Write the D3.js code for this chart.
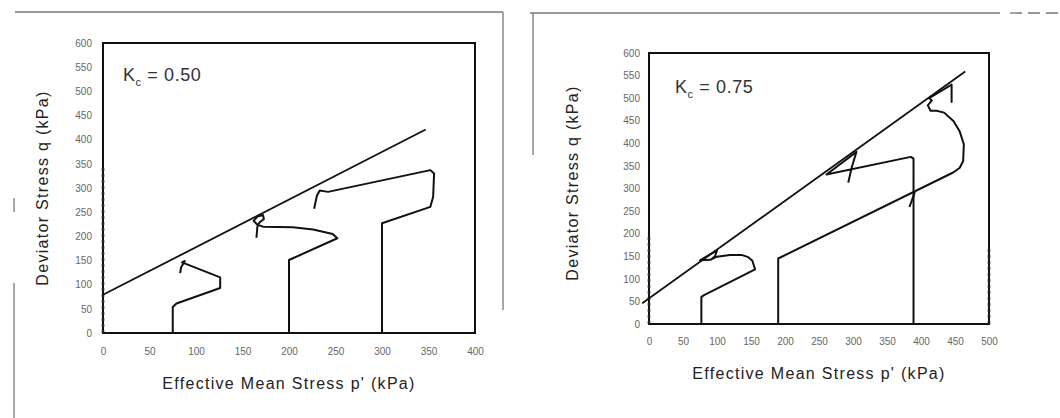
<!DOCTYPE html>
<html>
<head>
<meta charset="utf-8">
<script src="https://cdn.jsdelivr.net/npm/d3@7"></script>
<style>
  html, body { margin: 0; padding: 0; background: #fff; }
  svg { display: block; font-family: "Liberation Sans", Arial, sans-serif; }
</style>
</head>
<body>
<svg id="chart" width="1060" height="418"></svg>
<script>
// ---- Stress path data, p' (kPa) vs q (kPa) ----
const qTicks = [0, 50, 100, 150, 200, 250, 300, 350, 400, 450, 500, 550, 600];

// Kc = 0.50 panel
const pTicksA = [0, 50, 100, 150, 200, 250, 300, 350, 400];
const failureA = [[0, 79], [347, 421]];
const pathA1 = [[75, 0], [75, 54], [79, 61], [126, 93], [126, 115], [85, 146], [88, 149], [84, 136], [83, 124]];
const pathA2 = [[200, 0], [200, 151], [252, 196], [247, 205], [226, 214], [204, 219], [172, 220], [166, 224],
                [162, 232], [166, 241], [172, 244], [173, 236], [168, 228], [166, 220], [165, 197]];
const pathA3 = [[300, 0], [300, 227], [352, 261], [355, 282], [356, 330], [352, 337], [242, 292], [233, 295],
                [230, 284], [227, 257]];
const axisTraceA = [[0, 0], [0, 345]];

// Kc = 0.75 panel
const pTicksB = [0, 50, 100, 150, 200, 250, 300, 350, 400, 450, 500];
const failureB = [[-10, 46], [465, 559]];
const pathB1 = [[77, 0], [77, 60], [81, 64], [156, 121], [152, 140], [146, 148], [136, 153], [119, 153],
                [100, 149], [90, 142], [75, 141], [100, 163], [97, 150], [91, 142]];
const pathB2 = [[190, 0], [190, 145], [448, 336], [457, 346], [462, 361], [463, 398], [457, 426], [448, 449],
                [434, 468], [423, 472], [414, 472], [410, 484], [416, 495], [412, 500], [445, 530], [445, 490]];
const pathB3 = [[389, 0], [389, 366], [385, 370], [261, 331], [305, 381], [298, 346], [293, 313]];
const spurB = [[391, 292], [383, 259]];
const axisTraceB0 = [[0, 0], [0, 200]];
const axisTraceB1 = [[500, 0], [500, 170]];

const svg = d3.select("#chart");
const FONT = "'Liberation Sans', Arial, sans-serif";

// Scanned figure borders around the two panels
const border = svg.append("g").attr("stroke", "#777").attr("stroke-width", 1.3).attr("fill", "none");
border.append("line").attr("x1", 15).attr("y1", 12).attr("x2", 503).attr("y2", 12);
border.append("line").attr("x1", 503).attr("y1", 12).attr("x2", 503).attr("y2", 310);
border.append("line").attr("x1", 14).attr("y1", 283).attr("x2", 14).attr("y2", 418);
border.append("line").attr("x1", 14).attr("y1", 198).attr("x2", 14).attr("y2", 212);
border.append("line").attr("x1", 530).attr("y1", 13).attr("x2", 1000).attr("y2", 13);
border.append("line").attr("x1", 1010).attr("y1", 13).attr("x2", 1060).attr("y2", 13).attr("stroke-dasharray", "12,6");
border.append("line").attr("x1", 533).attr("y1", 13).attr("x2", 533).attr("y2", 155);

function panel(cfg) {
  const x = d3.scaleLinear().domain([0, cfg.pMax]).range([cfg.left, cfg.right]);
  const y = d3.scaleLinear().domain([0, 600]).range([cfg.bottom, cfg.top]);
  const g = svg.append("g");
  const line = d3.line().x(d => x(d[0])).y(d => y(d[1]));

  // tick labels
  const xAxis = d3.axisBottom(x).tickValues(cfg.pTicks).tickSize(0).tickPadding(cfg.xPad).tickFormat(d3.format("d"));
  const xg = g.append("g").attr("transform", `translate(0,${cfg.bottom})`).call(xAxis);
  const yAxis = d3.axisLeft(y).tickValues(qTicks).tickSize(0).tickPadding(cfg.yPad).tickFormat(d3.format("d"));
  const yg = g.append("g").attr("transform", `translate(${cfg.left},0)`).call(yAxis);
  [xg, yg].forEach(a => {
    a.select(".domain").remove();
    a.selectAll("text").attr("font-family", FONT).attr("font-size", 10).attr("fill", "#666");
  });

  // frame
  g.append("rect")
    .attr("x", cfg.left).attr("y", cfg.top)
    .attr("width", cfg.right - cfg.left).attr("height", cfg.bottom - cfg.top)
    .attr("fill", "none").attr("stroke", "#111").attr("stroke-width", 2);

  // traces lying on the frame
  cfg.traces.forEach(t => {
    g.append("path").attr("d", line(t)).attr("fill", "none")
      .attr("stroke", "#222").attr("stroke-width", 2.6).attr("stroke-dasharray", "3,3");
  });

  // failure line
  g.append("path").attr("d", line(cfg.failure)).attr("fill", "none")
    .attr("stroke", "#111").attr("stroke-width", 1.8);

  // stress paths
  cfg.paths.forEach(pth => {
    g.append("path").attr("d", line(pth)).attr("fill", "none")
      .attr("stroke", "#111").attr("stroke-width", 2).attr("stroke-linejoin", "round");
  });

  // axis titles
  g.append("text")
    .attr("x", (cfg.left + cfg.right) / 2).attr("y", cfg.xTitleY)
    .attr("text-anchor", "middle").attr("font-family", FONT).attr("font-size", 16)
    .attr("letter-spacing", 1.3).attr("fill", "#222")
    .text("Effective Mean Stress p' (kPa)");
  g.append("text")
    .attr("transform", `translate(${cfg.yTitleX},${cfg.yTitleY}) rotate(-90)`)
    .attr("text-anchor", "middle").attr("font-family", FONT).attr("font-size", 16)
    .attr("letter-spacing", 1.3).attr("fill", "#222")
    .text("Deviator Stress q (kPa)");

  // consolidation ratio
  const k = g.append("text")
    .attr("x", cfg.kx).attr("y", cfg.ky)
    .attr("font-family", FONT).attr("font-size", 18).attr("fill", "#333").attr("letter-spacing", 0.6);
  k.append("tspan").text("K");
  k.append("tspan").attr("font-size", 11).attr("dy", 5).text("c");
  k.append("tspan").attr("dy", -5).text(" = " + cfg.kc);
}

panel({
  left: 103, right: 475, top: 43, bottom: 333, pMax: 400,
  pTicks: pTicksA, xPad: 15, yPad: 11,
  failure: failureA, paths: [pathA1, pathA2, pathA3], traces: [axisTraceA],
  xTitleY: 389, yTitleX: 48, yTitleY: 188,
  kx: 123, ky: 81, kc: "0.50"
});

panel({
  left: 649, right: 989, top: 53, bottom: 324, pMax: 500,
  pTicks: pTicksB, xPad: 14, yPad: 9,
  failure: failureB, paths: [pathB1, pathB2, pathB3, spurB], traces: [axisTraceB0, axisTraceB1],
  xTitleY: 379, yTitleX: 578, yTitleY: 183,
  kx: 675, ky: 93, kc: "0.75"
});
</script>
</body>
</html>
